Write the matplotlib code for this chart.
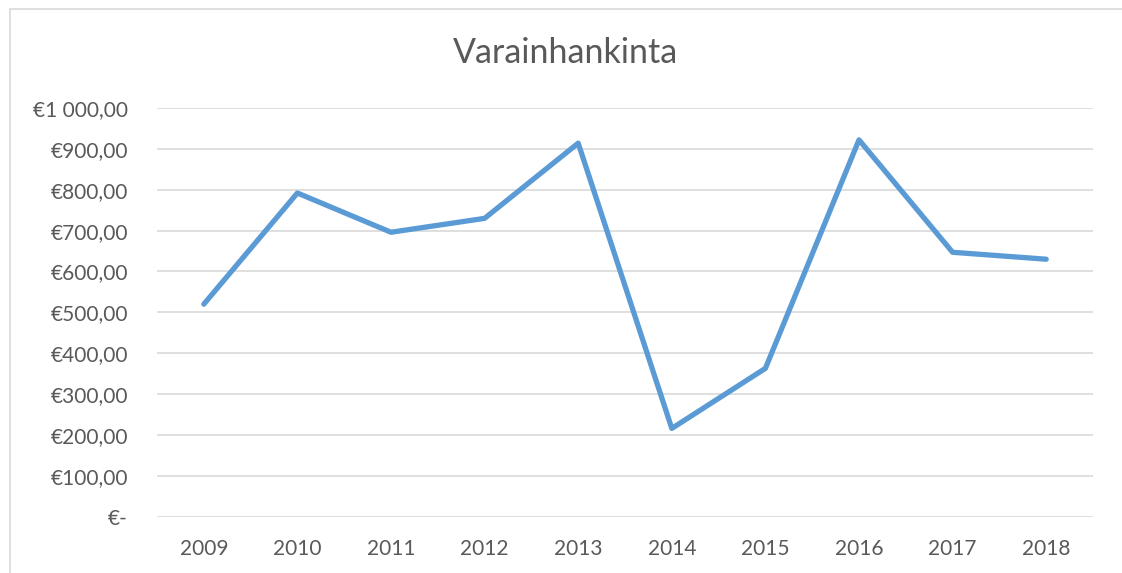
import matplotlib
matplotlib.use("Agg")
import matplotlib.pyplot as plt
from matplotlib.patches import Rectangle

years = ["2009", "2010", "2011", "2012", "2013", "2014", "2015", "2016", "2017", "2018"]
values = [520, 792, 696, 730, 914, 216, 363, 922, 647, 630]
yticks = [0, 100, 200, 300, 400, 500, 600, 700, 800, 900, 1000]
ytick_labels = ["€-", "€100,00", "€200,00", "€300,00", "€400,00", "€500,00",
                "€600,00", "€700,00", "€800,00", "€900,00", "€1 000,00"]
title = "Varainhankinta"

W, H = 1122, 573
fig = plt.figure(figsize=(W / 100, H / 100), dpi=100)
plt.rcParams['font.family'] = ['Lato', 'DejaVu Sans']
txt = "#595959"

ax = fig.add_axes([157 / W, 1 - 516.7 / H, (1093 - 157) / W, (516.7 - 108) / H])
x = list(range(len(years)))
ax.plot(x, values, color="#5B9BD5", linewidth=3.8, solid_joinstyle="round", solid_capstyle="round", zorder=3)
ax.set_xlim(-0.5, len(years) - 0.5)
ax.set_ylim(0, 1000)
ax.set_yticks(yticks)
ax.set_yticklabels(ytick_labels)
ax.set_xticks(x)
ax.set_xticklabels(years)
ax.grid(axis="y", color="#d9d9d9", linewidth=1.2)
ax.set_axisbelow(True)
for s in ax.spines.values():
    s.set_visible(False)
ax.tick_params(axis="both", length=0, colors=txt, labelsize=15)
ax.tick_params(axis="y", pad=21)
ax.tick_params(axis="x", pad=16)

fig.text(566 / W, 1 - 53 / H, title, ha="center", va="center", fontsize=24.5, color=txt)

fig.patches.append(Rectangle((10 / W, -0.1), 1.2, 1 - 9 / H + 0.1, transform=fig.transFigure,
                             fill=False, edgecolor="#d9d9d9", linewidth=1.2))

fig.savefig("out.png", dpi=100)
